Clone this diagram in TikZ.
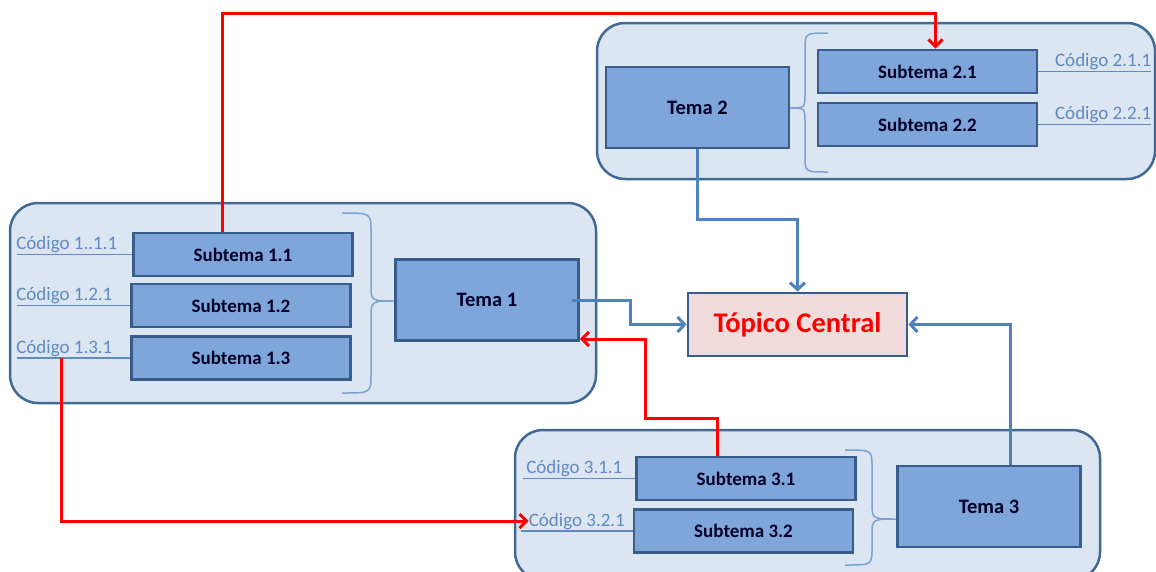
\documentclass[tikz,border=0pt]{standalone}
\usepackage{fontspec}
\setmainfont{Carlito}
\usetikzlibrary{arrows.meta,calc}
\definecolor{grpfill}{RGB}{220,230,242}
\definecolor{grpline}{RGB}{65,105,150}
\definecolor{boxfill}{RGB}{127,166,218}
\definecolor{boxline}{RGB}{56,93,138}
\definecolor{topicfill}{RGB}{242,220,219}
\definecolor{linkblue}{RGB}{79,129,189}
\definecolor{codeblue}{RGB}{95,138,192}
\definecolor{bracecol}{RGB}{125,162,210}
\tikzset{
  group/.style={draw=grpline, line width=2.5pt, fill=grpfill, rounded corners=28pt, inner sep=0pt},
  subbox/.style={draw=boxline, line width=2.8pt, fill=boxfill, minimum width=219pt, minimum height=43pt,
    inner sep=0pt, text=black!85!blue, font=\fontsize{19}{21}\selectfont\bfseries},
  temabox/.style={draw=boxline, line width=2.8pt, fill=boxfill, minimum width=183pt, minimum height=81pt,
    inner sep=0pt, text=black!85!blue, font=\fontsize{20.5}{22}\selectfont\bfseries},
  topicbox/.style={draw=boxline, line width=2.8pt, fill=topicfill, minimum width=219pt, minimum height=63pt,
    inner sep=0pt, text=red, font=\fontsize{28.5}{30}\selectfont\bfseries},
  codetext/.style={inner sep=0pt, text=codeblue, font=\fontsize{19}{21}\selectfont},
  codeline/.style={draw=codeblue, line width=1.3pt},
  bracepath/.style={draw=bracecol, line width=1.5pt},
  bluelink/.style={draw=linkblue, line width=3pt, -{Straight Barb[length=7pt,width=15pt]}},
  redlink/.style={draw=red, line width=3pt, -{Straight Barb[length=7pt,width=14pt]}}
}
\begin{document}
\begin{tikzpicture}[x=1pt,y=-1pt]
\useasboundingbox (0,0) rectangle (1156,571);

% Groups
\node[group, minimum width=586pt, minimum height=200pt] (g1) at (303,303) {};
\node[group, minimum width=558pt, minimum height=156pt] (g2) at (876,101) {};
\node[group, minimum width=585pt, minimum height=150pt] (g3) at (807.5,505) {};

% Braces
\draw[bracepath] (342,213) .. controls (371,213) .. (371,232) -- (371,285)
  .. controls (371,301) .. (396,301) .. controls (371,301) .. (371,317) -- (371,374)
  .. controls (371,393) .. (342,393);
\draw[bracepath] (828,33) .. controls (805,33) .. (805,50) -- (805,94)
  .. controls (805,108) .. (789,108) .. controls (805,108) .. (805,122) -- (805,156)
  .. controls (805,172) .. (828,172);
\draw[bracepath] (845,450) .. controls (872,450) .. (872,467) -- (872,503)
  .. controls (872,519) .. (897,519) .. controls (872,519) .. (872,535) -- (872,548)
  .. controls (872,565) .. (845,565);

% Subtemas
\node[subbox] (s11) at (243,254.5) {Subtema 1.1};
\node[subbox] (s12) at (241,305.5) {Subtema 1.2};
\node[subbox] (s13) at (241,358) {Subtema 1.3};
\node[subbox] (s21) at (927.5,71.5) {Subtema 2.1};
\node[subbox] (s22) at (927.5,124.5) {Subtema 2.2};
\node[subbox] (s31) at (746,478.5) {Subtema 3.1};
\node[subbox] (s32) at (743.5,531) {Subtema 3.2};

% Temas
\node[temabox] (t1) at (487,300) {Tema 1};
\node[temabox] (t2) at (697.5,107.5) {Tema 2};
\node[temabox] (t3) at (989,506.5) {Tema 3};
\node[topicbox] (tc) at (797.5,324.5) {Tópico Central};

% Codes
\draw[codeline] (s11.west) -- ++(-115,0);
\node[codetext, anchor=base west] (c11) at ($(s11.west)+(-116,-5)$) {Código 1..1.1};
\draw[codeline] (s12.west) -- ++(-113,0);
\node[codetext, anchor=base west] (c12) at ($(s12.west)+(-114,-5)$) {Código 1.2.1};
\draw[codeline] (s13.west) -- ++(-113,0);
\node[codetext, anchor=base west] (c13) at ($(s13.west)+(-114,-5)$) {Código 1.3.1};
\draw[codeline] (s21.east) -- ++(113,0);
\node[codetext, anchor=base east] (c21) at ($(s21.east)+(113,-5)$) {Código 2.1.1};
\draw[codeline] (s22.east) -- ++(113,0);
\node[codetext, anchor=base east] (c22) at ($(s22.east)+(113,-5)$) {Código 2.2.1};
\draw[codeline] (s31.west) -- ++(-112,0);
\node[codetext, anchor=base west] (c31) at ($(s31.west)+(-109,-5)$) {Código 3.1.1};
\draw[codeline] (s32.west) -- ++(-112,0);
\node[codetext, anchor=base west] (c32) at ($(s32.west)+(-104,-5)$) {Código 3.2.1};
\coordinate (c13tap) at ($(s13.west)+(-69,0)$);

% Blue links
\draw[bluelink] (t2.south) -- ++(0,70) -| (tc.north);
\draw[bluelink] ($(t1.east)+(-8,0)$) -- ++(59,0) |- (tc.west);
\draw[bluelink] ($(t3.north)+(21,0)$) |- (tc.east);

% Red links
\coordinate (rtop) at (0,13);
\coordinate (r11) at ($(s11.north)+(-21,0)$);
\coordinate (r21) at ($(s21.north)+(8,0)$);
\draw[redlink] (r11) -- (r11 |- rtop) -| (r21);
\draw[redlink] (c13tap) |- (c32.west);
\draw[redlink] ($(s31.north)+(-29,0)$) -- ++(0,-37) -- ++(-72,0) |- ($(t1.east)+(0,39)$);
\end{tikzpicture}
\end{document}
